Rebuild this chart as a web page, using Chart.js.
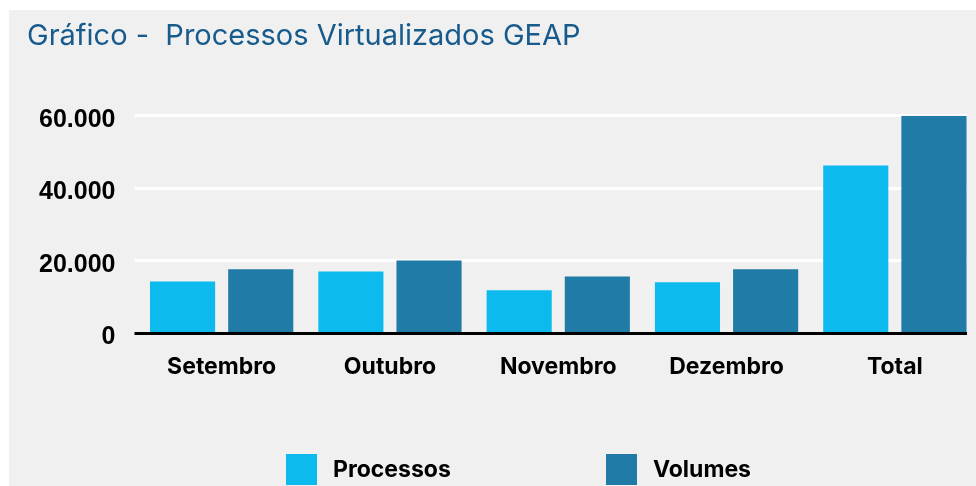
<!DOCTYPE html>
<html lang="pt-BR">
<head>
<meta charset="UTF-8">
<title>Processos Virtualizados GEAP</title>
<script src="https://cdn.jsdelivr.net/npm/chart.js@4.4.1/dist/chart.umd.min.js"></script>
<style>
	html, body {
		margin: 0;
		padding: 0;
		background: #ffffff;
		overflow: hidden;
	}
	.panel {
		position: absolute;
		left: 9px;
		top: 10px;
		width: 967px;
		height: 476px;
		background: #f0f0f0;
	}
	.chart-wrap {
		position: absolute;
		left: 0;
		top: 0;
		width: 958px;
		height: 476px;
		overflow: hidden;
	}
	.chart-wrap canvas {
		display: block;
	}
</style>
</head>
<body>
<div class="panel">
	<div class="chart-wrap">
		<canvas id="geapChart" width="970" height="476"></canvas>
	</div>
</div>
<script>
// chart data
const meses = ["Setembro", "Outubro", "Novembro", "Dezembro", "Total"];
const processos = [14300, 17100, 11900, 14100, 46300];
const volumes = [17700, 20100, 15700, 17700, 60000];
const yTicks = [0, 20000, 40000, 60000];

const corProcessos = "#0dbaee";
const corVolumes = "#207ba7";

// format numbers like 60.000
function formatMilhar(v) {
	return String(v).replace(/\B(?=(\d{3})+(?!\d))/g, ".");
}

document.addEventListener("DOMContentLoaded", function () {
	const ctx = document.getElementById("geapChart").getContext("2d");

	// simple legend drawn at the bottom of the canvas
	const bottomLegend = {
		id: "bottomLegend",
		afterDraw(chart, args, opts) {
			const c = chart.ctx;
			c.save();
			c.font = "bold 23px Inter";
			c.textBaseline = "middle";
			c.textAlign = "left";
			chart.data.datasets.forEach((ds, i) => {
				const x = opts.x[i];
				c.fillStyle = ds.backgroundColor;
				c.fillRect(x, opts.top, opts.box, opts.box);
				c.fillStyle = "#000000";
				c.fillText(ds.label, x + opts.box + opts.gap, opts.top + opts.box / 2 + 1);
			});
			c.restore();
		},
	};

	new Chart(ctx, {
		type: "bar",
		data: {
			labels: meses,
			datasets: [
				{
					label: "Processos",
					data: processos,
					backgroundColor: corProcessos,
					categoryPercentage: 0.929,
					barPercentage: 0.833,
				},
				{
					label: "Volumes",
					data: volumes,
					backgroundColor: corVolumes,
					categoryPercentage: 0.929,
					barPercentage: 0.833,
				},
			],
		},
		plugins: [bottomLegend],
		options: {
			responsive: false,
			animation: false,
			layout: {
				padding: { left: 18, top: 0, right: 0, bottom: 85 },
			},
			plugins: {
				legend: { display: false },
				tooltip: { enabled: false },
				title: {
					display: true,
					text: "Gráfico -  Processos Virtualizados GEAP",
					align: "start",
					color: "#175a8c",
					font: { family: "Inter", size: 29, weight: "normal" },
					padding: { top: 9, bottom: 62 },
				},
				bottomLegend: {
					x: [277, 597],
					top: 444,
					box: 31,
					gap: 16,
				},
			},
			scales: {
				x: {
					z: 1,
					grid: { display: false, drawTicks: false },
					border: { display: true, color: "#000000", width: 3 },
					ticks: {
						color: "#000000",
						padding: 20,
						font: { family: "Inter", size: 23, weight: "bold" },
					},
				},
				y: {
					min: 0,
					max: 60000,
					afterFit(scale) {
						scale.width = 110.5;
					},
					afterBuildTicks(scale) {
						scale.ticks = yTicks.map((v) => ({ value: v }));
					},
					border: { display: false },
					grid: {
						color: (c) => (c.tick && c.tick.value === 0 ? "#000000" : "#ffffff"),
						tickColor: (c) => (c.tick && c.tick.value === 0 ? "#000000" : "#ffffff"),
						lineWidth: 3,
						tickLength: 3,
					},
					ticks: {
						color: "#000000",
						padding: 19,
						labelOffset: 4,
						font: { family: "Liberation Sans", size: 25, weight: "bold" },
						callback: (v) => formatMilhar(v),
					},
				},
			},
		},
	});
});
</script>
</body>
</html>
